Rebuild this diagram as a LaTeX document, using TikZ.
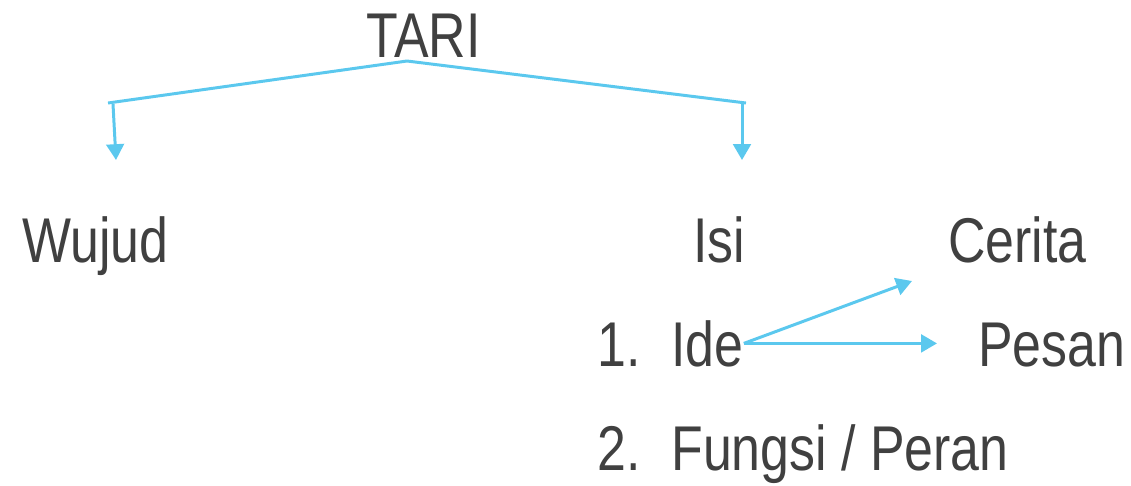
\documentclass[tikz,border=0pt]{standalone}
\usepackage{fontspec}
\setmainfont{Liberation Sans}[FakeStretch=0.82]
\usetikzlibrary{arrows.meta}
\definecolor{garis}{HTML}{5BC8EE}
\definecolor{teks}{HTML}{404040}

\begin{document}
\begin{tikzpicture}[x=0.02cm,y=-0.02cm,
    kata/.style={anchor=base west,inner sep=0pt,text=teks,font=\fontsize{36}{40}\selectfont},
    garisbiru/.style={color=garis,line width=1.7pt},
    panah/.style={garisbiru,-{Triangle[length=9pt,width=10pt]}}]
    \useasboundingbox (0,0) rectangle (1131,485);

    \node[kata] (tari)  at (366,57)  {TARI};
    \node[kata] (wujud) at (22,262)  {Wujud};
    \node[kata] (isi)   at (693,262) {Isi};
    \node[kata] (cerita) at (948,262) {Cerita};
    \node[kata] (no1)   at (597,366) {1.};
    \node[kata] (ide)   at (671,366) {Ide};
    \node[kata] (pesan) at (978,366) {Pesan};
    \node[kata] (no2)   at (597,470) {2.};
    \node[kata] (fungsi) at (671,470) {Fungsi / Peran};

    \coordinate (puncak) at (407,61);
    \coordinate (kiri)   at (108,103);
    \coordinate (kanan)  at (746,103);
    \coordinate (kiriA)  at (113,104);
    \coordinate (kiriB)  at (116,160);
    \coordinate (kananA) at (742,104);
    \coordinate (kananB) at (742,160);
    \coordinate (ujung1) at (912,281);
    \coordinate (ujung2) at (937,345);

    \draw[garisbiru] (kiri) -- (puncak) -- (kanan);
    \draw[panah] (kiriA) -- (kiriB);
    \draw[panah] (kananA) -- (kananB);
    \draw[panah] (ide.east) -- (ujung1);
    \draw[panah] (ide.east) -- (ide.east -| ujung2);
\end{tikzpicture}
\end{document}
